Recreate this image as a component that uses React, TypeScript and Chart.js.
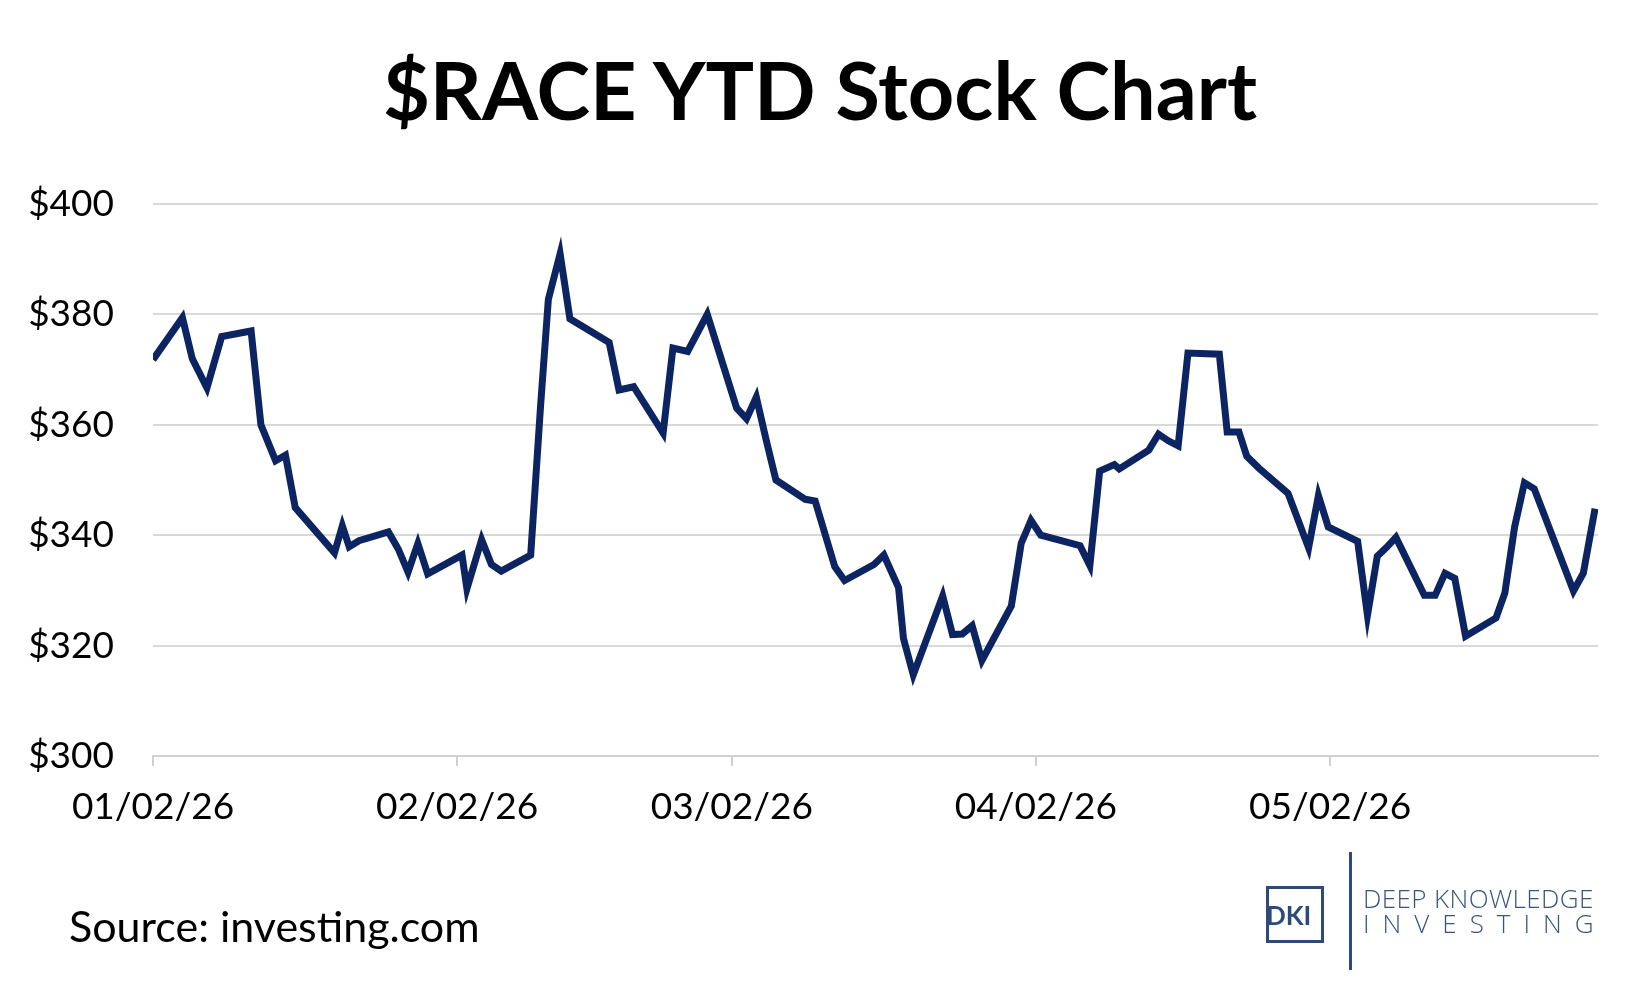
import React, { useEffect, useRef } from "react";
import { Chart, registerables } from "chart.js";
Chart.register(...registerables);

const days = [0,3,4,5.5,7,10,11,12.5,13.5,14.5,18.5,19.3,20,21,24,25,26,27,28,31.5,32,33.5,34.5,35.5,38.5,39.5,40.3,41.5,42.5,46.5,47.5,49,52,53,54.5,56.5,59.5,60.5,61.5,62.5,63.5,66.5,67.5,69.5,70.5,73.5,74.5,76,76.5,77.5,80.5,81.5,82.5,83.5,84.5,87.5,88.5,89.5,90.5,94.5,95.5,96.5,98,98.5,101.5,102.5,103.5,104.5,105.5,108.7,109.5,110.7,111.5,112.7,115.7,117.8,118.8,119.8,122.8,123.8,124.8,125.7,126.7,129.6,130.7,131.7,132.7,133.8,136.9,137.8,138.8,139.8,140.8,144.8,145.8,147];
const prices = [371.8,379.4,372,366.7,376,377,360,353.5,354.5,345,336.8,341.7,337.9,339,340.6,337.5,333.3,338.5,333,336.4,330.3,339.2,334.7,333.5,336.4,363.2,382.7,391,379.2,374.9,366.3,366.9,358.5,373.9,373.3,380,363,361.1,365,357.3,350,346.5,346.2,334.3,331.8,334.7,336.4,330.5,321.3,314.7,329,322,322.1,323.6,317.3,327.2,338.5,342.7,340,338.1,334.5,351.6,352.8,352,355.4,358.3,357.1,356.2,373,372.8,358.7,358.7,354.3,352.2,347.6,337.7,347.2,341.5,338.9,325.5,336.2,337.7,339.6,329.1,329.1,333.1,332.2,321.7,325,329.5,341.5,349.5,348.4,329.9,333.1,344.8];
const tickDays = [0, 31, 59, 90, 120];
const tickLabels = ["01/02/26", "02/02/26", "03/02/26", "04/02/26", "05/02/26"];

const FONT = "Lato, 'Open Sans', sans-serif";

export default function App() {
  const ref = useRef<HTMLCanvasElement>(null);
  useEffect(() => {
    document.body.style.margin = "0";
    const chart = new Chart(ref.current!, {
      type: "line",
      data: {
        datasets: [{
          data: days.map((d, i) => ({ x: d, y: prices[i] })),
          borderColor: "#0c2462",
          borderWidth: 7,
          pointRadius: 0,
          tension: 0,
          borderJoinStyle: "miter",
        }],
      },
      options: {
        animation: false,
        responsive: false,
        layout: { padding: { top: 204, right: 52, left: 0, bottom: 0 } },
        plugins: { legend: { display: false }, tooltip: { enabled: false } },
        scales: {
          x: {
            type: "linear",
            min: 0,
            max: 147.3,
            afterBuildTicks: (s: any) => { s.ticks = tickDays.map((v) => ({ value: v })); },
            afterFit: (s: any) => { s.height = 234; },
            ticks: {
              autoSkip: false,
              maxRotation: 0,
              padding: 19,
              color: "#000",
              font: { family: FONT, size: 37 },
              callback: (v: any) => tickLabels[tickDays.indexOf(Number(v))] ?? "",
            },
            grid: { drawOnChartArea: false, drawTicks: true, tickLength: 10, color: "#d0d0d0", lineWidth: 2 },
            border: { display: true, color: "#d0d0d0", width: 2 },
          },
          y: {
            min: 300,
            max: 400,
            afterFit: (s: any) => { s.width = 153; },
            ticks: {
              stepSize: 20,
              padding: 39,
              color: "#000",
              font: { family: FONT, size: 37 },
              callback: (v: any) => "$" + v,
            },
            grid: { drawTicks: false, color: "#d9d9d9", lineWidth: 2 },
            border: { display: false },
          },
        },
      },
    });
    return () => chart.destroy();
  }, []);
  return (
    <div style={{ position: "relative", width: 1650, height: 990, background: "#fff", fontFamily: FONT }}>
      <canvas ref={ref} width={1650} height={990} style={{ position: "absolute", left: 0, top: 0 }} />
      <div style={{ position: "absolute", left: 0, width: 1640, top: 40, textAlign: "center", fontSize: 81, fontWeight: 700, color: "#000" }}>
        $RACE YTD Stock Chart
      </div>
      <div style={{ position: "absolute", left: 69, top: 900, fontSize: 43, color: "#000" }}>Source: investing.com</div>
      <div style={{ position: "absolute", left: 1266, top: 886, width: 52, height: 51, border: "3px solid #2d4a7a" }}>
        <div style={{ position: "absolute", left: -3, top: 10, fontSize: 26, fontWeight: 700, color: "#2d4a7a" }}>DKI</div>
      </div>
      <div style={{ position: "absolute", left: 1349, top: 852, width: 3, height: 118, background: "#2d4a7a" }} />
      <div style={{ position: "absolute", left: 1363, top: 880, fontSize: 26, fontWeight: 300, color: "#3a5582", fontFamily: "'Open Sans', sans-serif", letterSpacing: 0.4 }}>DEEP KNOWLEDGE</div>
      <div style={{ position: "absolute", left: 1363, top: 905, fontSize: 26, fontWeight: 300, color: "#3a5582", fontFamily: "'Open Sans', sans-serif", letterSpacing: 13 }}>INVESTING</div>
    </div>
  );
}
